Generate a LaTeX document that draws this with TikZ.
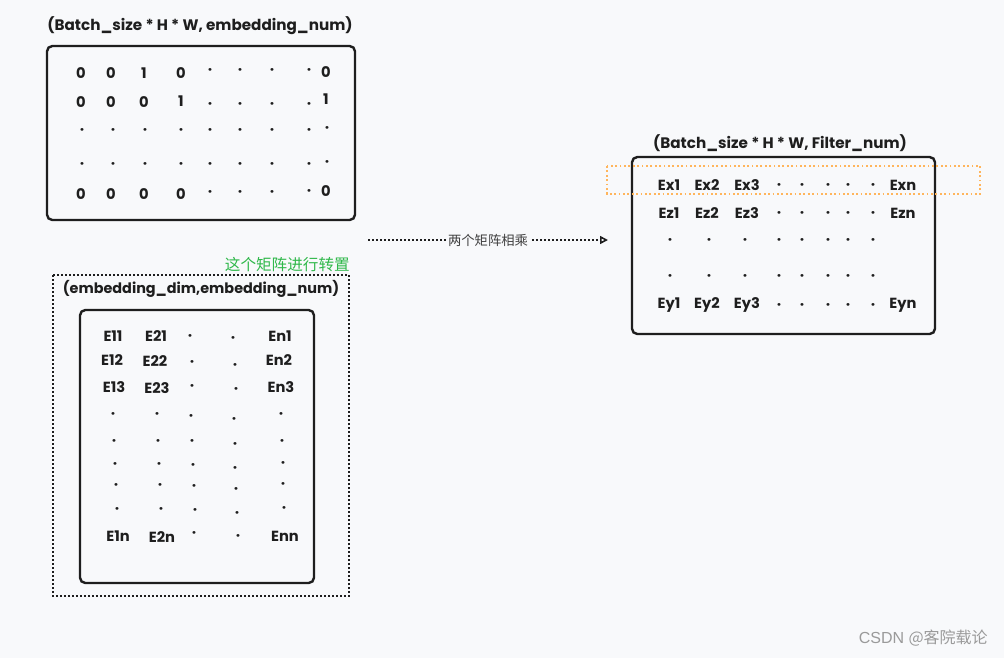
\documentclass[tikz,border=0pt]{standalone}
\usepackage{fontspec}
\setmainfont{Poppins}
\newfontfamily\cjkf{Noto Sans CJK SC}
\newfontfamily\wmf{Liberation Sans}
\usetikzlibrary{arrows.meta}
\definecolor{bg}{HTML}{F8F9FB}
\definecolor{ink}{HTML}{1E1E1E}
\definecolor{grn}{HTML}{2FB84A}
\definecolor{org}{HTML}{FFB55C}
\definecolor{wm}{HTML}{9A9A9A}
\tikzset{
  cell/.style={font=\fontsize{11pt}{12pt}\selectfont\bfseries, text=ink, inner sep=0pt},
  ttl/.style={font=\fontsize{11.4pt}{12pt}\selectfont\bfseries, text=ink, inner sep=0pt},
  mbox/.style={draw=ink, line width=1.8pt, rounded corners=4pt},
  dotbox/.style={draw=ink, line width=1.2pt, dash pattern=on 1.2pt off 1.8pt},
  orgbox/.style={draw=org, line width=1.3pt, dash pattern=on 1.3pt off 2pt},
  conn/.style={draw=ink, line width=1.2pt, dash pattern=on 1.2pt off 1.8pt, -{Triangle[open, length=6pt, width=6pt, line width=1.2pt, sep=0pt]}},
}
\begin{document}
\begin{tikzpicture}[x=0.75pt, y=-0.75pt]
\fill[bg] (0,0) rectangle (1004,658);
\useasboundingbox (0,0) rectangle (1004,658);

% ---------- Matrix 1 ----------
\node[ttl] (t1) at (200,26) {(Batch\_size * H * W, embedding\_num)};
\draw[mbox] (47,46) rectangle (355,220);
\foreach \t/\x/\y [count=\i] in {
  0/81/73, 0/111/73, 1/144/73, 0/181/73, ·/210/72, ·/240/72, ·/272/72, ·/309/72, 0/326/72,
  0/81/102, 0/111/102, 0/144/102, 1/181/101, ·/210/106, ·/240/106, ·/272/106, ·/309/106, 1/326/99,
  ·/82/132, ·/113/132, ·/145/132, ·/181/132, ·/210/132, ·/240/132, ·/272/132, ·/309/132, ·/327/130,
  ·/82/166, ·/113/166, ·/145/166, ·/181/166, ·/210/166, ·/240/166, ·/272/166, ·/309/166, ·/327/164,
  0/81/194, 0/111/194, 0/144/194, 0/181/194, ·/210/194, ·/240/194, ·/272/194, ·/309/193, 0/326/191}
  {\node[cell] (ma\i) at (\x,\y) {\t};}

% ---------- Matrix 2 ----------
\draw[dotbox] (53,275) rectangle (349,596);
\node[font=\cjkf\fontsize{11.7pt}{13pt}\selectfont, text=grn, anchor=east, inner sep=0pt] (lab2) at (350,265) {这个矩阵进行转置};
\node[ttl, font=\fontsize{10.8pt}{12pt}\selectfont\bfseries] (t2) at (201,289) {(embedding\_dim,embedding\_num)};
\draw[mbox] (80,310) rectangle (314,583);
\foreach \t/\x/\y [count=\i] in {
  E11/113/336, E21/156/336, ·/190/337, ·/233/340, En1/280/336,
  E12/112/360, E22/155/361, ·/192/363, ·/235/366, En2/279/360,
  E13/114/387, E23/157/388, ·/192/387, ·/236/390, En3/281/387,
  ·/113/415, ·/157/415, ·/191/417, ·/234/420, ·/281/415,
  ·/114/442, ·/158/442, ·/192/442, ·/235/445, ·/282/442,
  ·/115/465, ·/159/465, ·/193/466, ·/235/469, ·/283/464,
  ·/116/486, ·/160/486, ·/194/487, ·/236/490, ·/283/485,
  ·/117/510, ·/161/510, ·/195/511, ·/237/514, ·/284/509,
  E1n/118/536, E2n/162/537, ·/194/534, ·/238/537, Enn/285/536}
  {\node[cell] (mb\i) at (\x,\y) {\t};}

% ---------- Arrow ----------
\coordinate (arS) at (368,240);
\coordinate (arE) at (608,240);
\draw[conn] (arS) -- node[fill=bg, inner sep=1.5pt, font=\cjkf\fontsize{10pt}{11pt}\selectfont, text=ink!85] (arlab) {两个矩阵相乘} (arE);

% ---------- Matrix 3 ----------
\node[ttl] (t3) at (780,143) {(Batch\_size * H * W, Filter\_num)};
\draw[mbox] (632,157) rectangle (935,334);
\draw[orgbox] (607,166) rectangle (980,194);
\foreach \t/\x/\y [count=\i] in {
  Ex1/669/185, Ex2/707/185, Ex3/747/185, ·/779/187, ·/802/187, ·/828/187, ·/848/187, ·/873/187, Exn/903/185,
  Ez1/669/213, Ez2/707/213, Ez3/747/213, ·/779/215, ·/802/215, ·/828/215, ·/848/215, ·/873/215, Ezn/903/213,
  ·/670/242, ·/709/242, ·/745/242, ·/779/242, ·/802/242, ·/828/242, ·/848/242, ·/873/242,
  ·/670/278, ·/709/278, ·/745/278, ·/779/278, ·/802/278, ·/828/278, ·/848/278, ·/873/278,
  Ey1/669/305, Ey2/707/305, Ey3/747/305, ·/779/307, ·/802/307, ·/828/307, ·/848/307, ·/873/307, Eyn/903/305}
  {\node[cell] (mc\i) at (\x,\y) {\t};}

% ---------- watermark ----------
\node[font=\cjkf\fontsize{12pt}{13pt}\selectfont, text=wm, anchor=east, inner sep=0pt] (wmk) at (988,638) {\wmf CSDN \cjkf @客院载论};
\end{tikzpicture}
\end{document}
